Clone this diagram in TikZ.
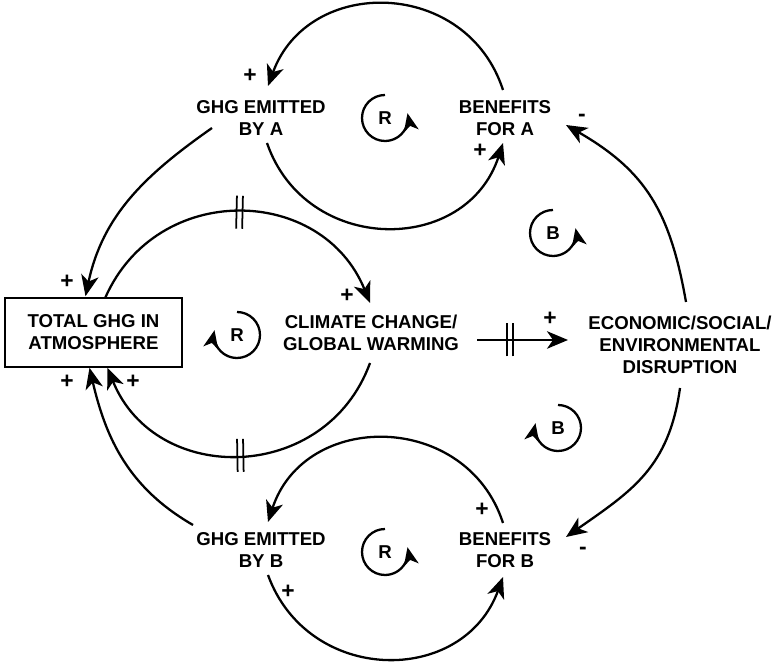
\documentclass[tikz,border=0pt]{standalone}
\usepackage{fontspec}
\setmainfont{Liberation Sans}
\usetikzlibrary{arrows.meta,calc,decorations.markings}

\tikzset{
  var/.style={align=center,font=\fontsize{10.6}{12.5}\selectfont\bfseries,inner sep=0pt},
  link/.style={line width=1.3pt,-{Stealth[length=4.2mm,width=3.5mm,inset=1.2mm]}},
  sgn/.style={font=\fontsize{13}{13}\selectfont\bfseries,inner sep=0pt},
  looplbl/.style={font=\fontsize{10.6}{12}\selectfont\bfseries,inner sep=0pt},
  looparr/.style={line width=1.3pt,-{Stealth[length=3.6mm,width=3mm,inset=1mm]}},
  delaymark/.style={postaction={decorate},decoration={markings,mark=at position #1 with
    {\draw[-,line width=1pt] (-0.06cm,-0.33cm) -- (-0.06cm,0.33cm) (0.06cm,-0.33cm) -- (0.06cm,0.33cm);}}}
}

\begin{document}
\begin{tikzpicture}[x=0.02cm,y=0.02cm]
\useasboundingbox (0,0) rectangle (777,662);
% variables
\node[var] (ghga) at (261,544) {GHG EMITTED\\BY A};
\node[var] (bena) at (505,544) {BENEFITS\\FOR A};
\node[var,draw,line width=0.9pt,minimum width=3.54cm,minimum height=1.38cm] (total) at (93.5,329.5) {TOTAL GHG IN\\ATMOSPHERE};
\node[var] (climate) at (371,329) {CLIMATE CHANGE/\\GLOBAL WARMING};
\node[var] (econ) at (680,317) {ECONOMIC/SOCIAL/\\ENVIRONMENTAL\\DISRUPTION};
\node[var] (ghgb) at (261,112) {GHG EMITTED\\BY B};
\node[var] (benb) at (505,112) {BENEFITS\\FOR B};

% links
\draw[link] ($(bena)+(-2,28)$) to[out=108,in=70,looseness=1.28] ($(ghga)+(7,32)$);
\draw[link] ($(ghga)+(6,-25)$) to[out=-71,in=-108,looseness=1.29] ($(bena)+(-2,-25)$);
\draw[link] ($(ghga)+(-49,-10)$) to[out=215,in=78] ($(total.north)+(-8,1)$);
\draw[link,delaymark=0.5] ($(total.north)+(12,0)$) to[out=66,in=112,looseness=1.23] ($(climate)+(-1,30)$);
\draw[link,delaymark=0.5] ($(climate)+(-1,-30)$) to[out=-110,in=-68,looseness=1.25] ($(total.south)+(14,0)$);
\draw[link] ($(ghgb)+(-68,25)$) to[out=150,in=-77] ($(total.south)+(-4,0)$);
\draw[link,delaymark=0.36] ($(climate)+(106,-7)$) -- ($(econ)+(-112,5)$);
\draw[link] ($(econ)+(6,43)$) to[out=100,in=-30,looseness=1.1] ($(bena)+(61,-7)$);
\draw[link] ($(econ)+(0,-43)$) to[out=262,in=35,looseness=1.1] ($(benb)+(61,13)$);
\draw[link] ($(benb)+(-2,27)$) to[out=108,in=72,looseness=1.28] ($(ghgb)+(7,28)$);
\draw[link] ($(ghgb)+(7,-25)$) to[out=-70,in=-110,looseness=1.27] ($(benb)+(-2,-27)$);

% polarities
\node[sgn] (s1) at (250,586) {+};
\node[sgn] (s2) at (480,511) {+};
\node[sgn] (s3) at (582,544) {-};
\node[sgn] (s4) at (67,380) {+};
\node[sgn] (s5) at (347,366) {+};
\node[sgn] (s6) at (67,280) {+};
\node[sgn] (s7) at (133,280) {+};
\node[sgn] (s8) at (550,343) {+};
\node[sgn] (s9) at (482,152) {+};
\node[sgn] (s10) at (583,111) {-};
\node[sgn] (s11) at (288,70) {+};

% loop markers
\node[looplbl] (r1) at (385,544) {R};
\draw[looparr] ($(r1)+(0,23)$) arc[start angle=90,end angle=372,radius=0.46cm];
\node[looplbl] (r2) at (237,327) {R};
\draw[looparr] ($(r2)+(0,23)$) arc[start angle=90,end angle=-192,radius=0.46cm];
\node[looplbl] (b1) at (553,429) {B};
\draw[looparr] ($(b1)+(0,23)$) arc[start angle=90,end angle=372,radius=0.46cm];
\node[looplbl] (b2) at (558,234) {B};
\draw[looparr] ($(b2)+(0,23)$) arc[start angle=90,end angle=-192,radius=0.46cm];
\node[looplbl] (r3) at (385,110) {R};
\draw[looparr] ($(r3)+(0,23)$) arc[start angle=90,end angle=372,radius=0.46cm];
\end{tikzpicture}
\end{document}
